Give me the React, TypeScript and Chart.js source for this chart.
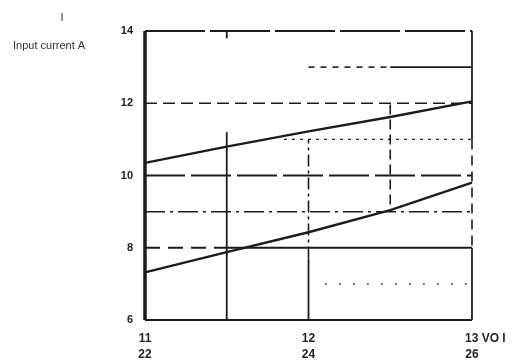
import React, { useEffect, useRef } from "react";
import { Chart, registerables } from "chart.js";
Chart.register(...registerables);

// Main curves
const xPoints = [22, 23, 24, 25, 26];
const upperSeries = [10.35, 10.8, 11.22, 11.62, 12.05];
const lowerSeries = [7.32, 7.88, 8.43, 9.04, 9.8];

// Axis ticks
const yTickValues = [6, 8, 10, 12, 14];
const xTickValues = [22, 24, 26];
const xTickTop = ["11", "12", "13 VO l"];
const xTickBottom = ["22", "24", "26"];
const yTitleLines = ["I", "Input current A"];

// Reference (grid) segments in data units: [x1, y1, x2, y2]
const frameLeft = [22, 6, 22, 14];
const frameBottom = [22, 6, 26, 6];
const frameTop = [22, 14, 26, 14];
const frameRightTop = [26, 14, 26, 11];
const frameRightMid = [26, 11, 26, 8];
const frameRightBottom = [26, 8, 26, 6];
const grid13a = [24, 13, 25, 13];
const grid13b = [25, 13, 26, 13];
const grid12 = [22, 12, 26, 12];
const grid11 = [23.7, 11, 26, 11];
const grid10 = [22, 10, 26, 10];
const grid9 = [22, 9, 26, 9];
const grid8a = [22, 8, 23, 8];
const grid8b = [23, 8, 26, 8];
const grid7 = [24.2, 7, 26, 7];
const vert23 = [23, 6, 23, 11.2];
const vert24a = [24, 7.7, 24, 11];
const vert24b = [24, 6, 24, 7.7];
const vert25 = [25, 9.2, 25, 12];
const vert23Top = [23, 14, 23, 13.8];

const INK = "#1c1c1c";

function seg(s: number[], width: number, dash: number[] = []) {
  return {
    type: "line" as const,
    data: [
      { x: s[0], y: s[1] },
      { x: s[2], y: s[3] },
    ],
    borderColor: INK,
    borderWidth: width,
    borderDash: dash,
    pointRadius: 0,
    tension: 0,
    clip: false as any,
    borderCapStyle: "butt" as const,
  };
}

export default function App() {
  const ref = useRef<HTMLCanvasElement | null>(null);
  useEffect(() => {
    if (!ref.current) return;
    const titlePlugin = {
      id: "ytitle",
      afterDraw(chart: any) {
        const ctx = chart.ctx;
        ctx.save();
        ctx.fillStyle = "#333";
        ctx.font = "11px 'Liberation Sans', sans-serif";
        ctx.textAlign = "center";
        ctx.textBaseline = "middle";
        ctx.fillText(yTitleLines[0], 62, 18);
        ctx.textAlign = "left";
        ctx.fillText(yTitleLines[1], 13, 46);
        ctx.restore();
      },
    };
    const chart = new Chart(ref.current, {
      type: "line",
      data: {
        datasets: [
          seg(frameTop, 1.8, [60, 5]),
          seg(grid13a, 1.6, [6, 6]),
          seg(grid13b, 1.8),
          seg(grid12, 1.6, [12, 6]),
          seg(grid11, 1.4, [3, 5]),
          seg(grid10, 1.8, [40, 6]),
          seg(grid9, 1.5, [20, 5, 3, 5]),
          seg(grid8a, 1.8, [15, 8]),
          seg(grid8b, 1.8),
          seg(grid7, 1.4, [2, 12]),
          seg(vert23, 1.8),
          seg(vert23Top, 1.8),
          seg(vert24a, 1.6, [12, 4, 3, 4]),
          seg(vert24b, 1.8),
          seg(vert25, 1.6, [10, 5]),
          seg(frameRightTop, 1.8),
          seg(frameRightMid, 1.6, [10, 6]),
          seg(frameRightBottom, 1.8),
          seg(frameBottom, 2.2),
          seg(frameLeft, 3.5),
          {
            type: "line",
            data: xPoints.map((x, i) => ({ x, y: upperSeries[i] })),
            borderColor: INK,
            borderWidth: 2.4,
            pointRadius: 0,
            tension: 0,
            clip: false as any,
          },
          {
            type: "line",
            data: xPoints.map((x, i) => ({ x, y: lowerSeries[i] })),
            borderColor: INK,
            borderWidth: 2.4,
            pointRadius: 0,
            tension: 0,
            clip: false as any,
          },
        ] as any,
      },
      options: {
        animation: false,
        responsive: false,
        maintainAspectRatio: false,
        layout: { padding: { top: 31, right: 44, left: 0, bottom: 0 } },
        plugins: {
          legend: { display: false },
          tooltip: { enabled: false },
          title: { display: false },
        },
        scales: {
          x: {
            type: "linear",
            min: 22,
            max: 26,
            grid: { display: false },
            border: { display: false },
            afterBuildTicks(scale: any) {
              scale.ticks = xTickValues.map((v) => ({ value: v }));
            },
            afterFit(scale: any) {
              scale.height = 41;
            },
            ticks: {
              color: "#222",
              padding: 3,
              maxRotation: 0,
              autoSkip: false,
              font: { family: "'Liberation Sans', sans-serif", size: 12, weight: "bold", lineHeight: 1.333 },
              callback(value: any) {
                const i = xTickValues.indexOf(Number(value));
                if (i < 0) return "";
                const top = i === 2 ? "        " + xTickTop[i] : xTickTop[i];
                return [top, xTickBottom[i]];
              },
            },
          },
          y: {
            type: "linear",
            min: 6,
            max: 14,
            grid: { display: false },
            border: { display: false },
            afterBuildTicks(scale: any) {
              scale.ticks = yTickValues.map((v) => ({ value: v }));
            },
            afterFit(scale: any) {
              scale.width = 145;
            },
            ticks: {
              color: "#222",
              padding: 4,
              font: { family: "'Liberation Sans', sans-serif", size: 11, weight: "bold" },
            },
          },
        },
      },
      plugins: [titlePlugin],
    });
    return () => chart.destroy();
  }, []);
  return (
    <div style={{ position: "fixed", left: 0, top: 0, width: 516, height: 361, background: "#fff" }}>
      <canvas ref={ref} width={516} height={361} style={{ width: 516, height: 361, display: "block" }} />
    </div>
  );
}
